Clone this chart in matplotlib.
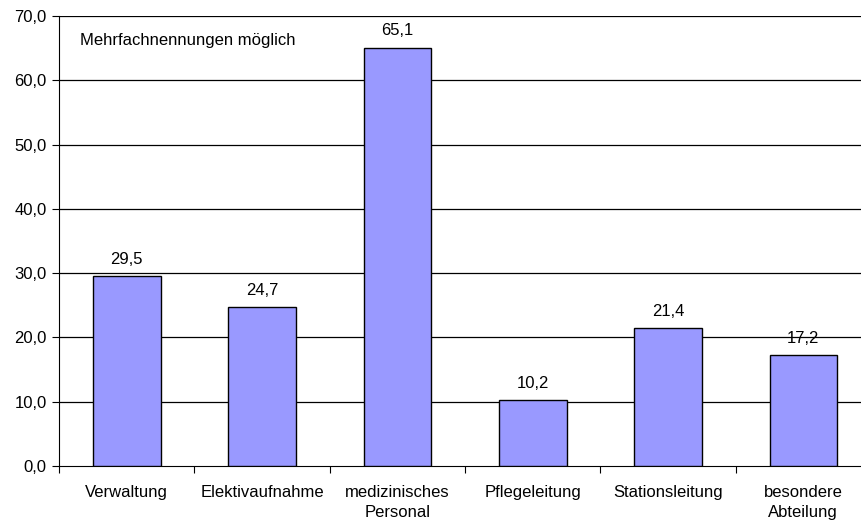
import matplotlib
matplotlib.use("Agg")
import matplotlib.pyplot as plt
import numpy as np

plt.rcParams['font.family'] = ['Liberation Sans', 'DejaVu Sans']

categories = ["Verwaltung", "Elektivaufnahme", "medizinisches\nPersonal",
              "Pflegeleitung", "Stationsleitung", "besondere\nAbteilung"]
values = [29.5, 24.7, 65.1, 10.2, 21.4, 17.2]
yticks = [0, 10, 20, 30, 40, 50, 60, 70]

fig = plt.figure(figsize=(8.61, 5.22), dpi=100)
# axes runs past the right edge of the image, like the original export
ax = fig.add_axes([59 / 861, 56 / 522, 812 / 861, 450 / 522])

x = np.arange(len(categories))
ax.bar(x, values, width=0.5, color="#9999FF", edgecolor="black", linewidth=1, zorder=3)
for xi, v in zip(x, values):
    ax.text(xi, v + 1.45, f"{v:.1f}".replace(".", ","), ha="center", va="bottom", fontsize=12)

ax.set_xlim(-0.5, len(categories) - 0.5)
ax.set_ylim(0, 70)
ax.set_yticks(yticks)
ax.set_yticklabels([f"{t:.1f}".replace(".", ",") for t in yticks], fontsize=12)
for t in yticks[1:]:
    ax.axhline(t, color="black", linewidth=0.9, zorder=1)

ax.set_xticks(np.arange(len(categories) + 1) - 0.5)
ax.set_xticklabels([])
ax.set_xticks(x, minor=True)
ax.set_xticklabels(categories, minor=True, fontsize=12, linespacing=1.4)
ax.tick_params(axis="x", which="minor", length=0, pad=14)
ax.tick_params(axis="x", which="major", length=5, direction="out")
ax.tick_params(axis="y", length=5, direction="out", pad=4)

ax.spines["top"].set_visible(False)
ax.spines["right"].set_visible(False)

fig.text(80 / 861, 1 - 40 / 522, "Mehrfachnennungen möglich", fontsize=12, va="center")

fig.savefig("out.png", dpi=100)
